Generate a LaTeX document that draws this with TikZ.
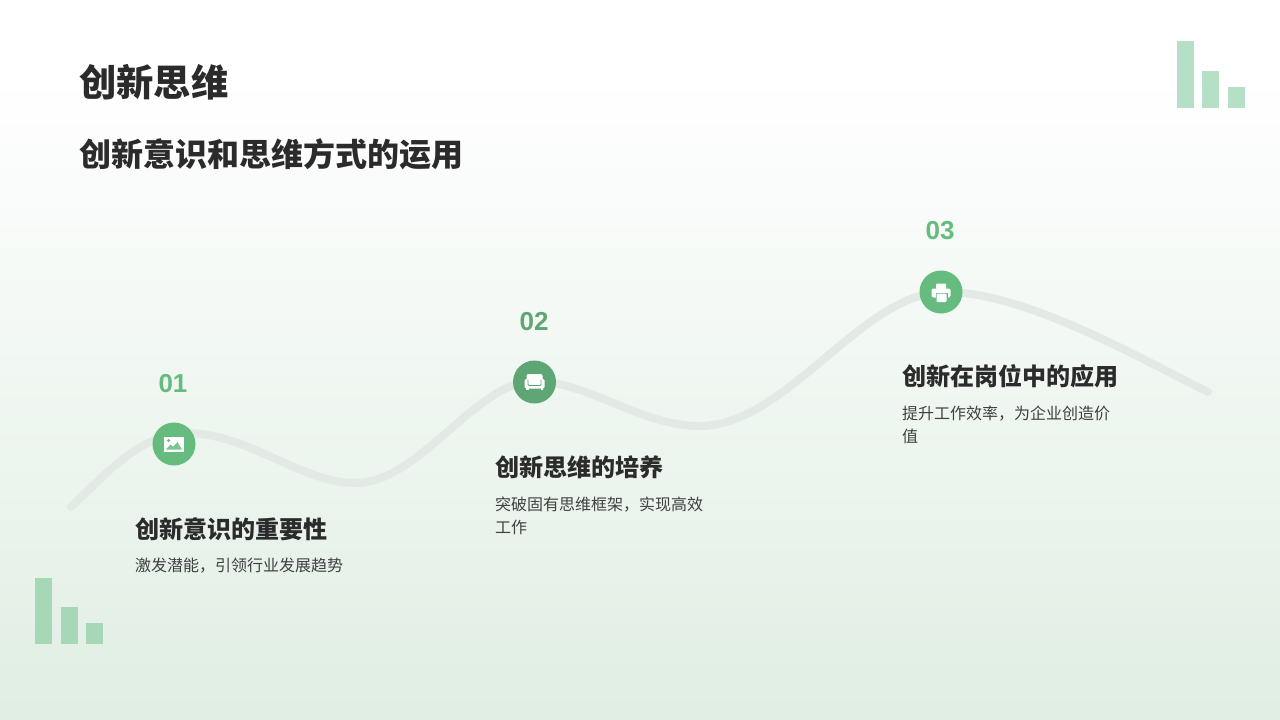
\documentclass[tikz,border=0pt]{standalone}
\usepackage{fontspec}
\setmainfont{Liberation Sans}
\newfontfamily\cjk{Noto Sans CJK SC}
\definecolor{bgbot}{HTML}{E0EEE3}
\definecolor{cgreen}{HTML}{66BB7F}
\definecolor{cdark}{HTML}{5FA675}
\definecolor{barT}{HTML}{B5E0C5}
\definecolor{barB}{HTML}{A6D8B7}
\definecolor{wave}{HTML}{E3EAE6}
\definecolor{ink}{HTML}{2B2B2B}
\definecolor{bodyink}{HTML}{404040}
\pgfdeclareverticalshading{bgsh}{100bp}{color(0bp)=(bgbot);color(25bp)=(bgbot);color(70bp)=(white);color(100bp)=(white)}
\tikzset{
  x=1pt,y=-1pt,
  txt/.style={inner sep=0pt,anchor=base west,text=ink},
  title/.style={txt,font=\cjk\fontsize{37.3}{44}\selectfont\bfseries},
  subtitle/.style={txt,font=\cjk\fontsize{32}{38}\selectfont\bfseries},
  heading/.style={txt,font=\cjk\fontsize{24.05}{29}\selectfont\bfseries},
  bodytxt/.style={txt,text=bodyink,font=\cjk\fontsize{16}{23}\selectfont,align=left},
  numlabel/.style={inner sep=0pt,anchor=center,font=\fontsize{26}{30}\selectfont\bfseries},
  dot/.style={circle,inner sep=0pt,minimum size=43pt},
  bar/.style={fill=#1,draw=none},
  iconw/.style={fill=white,draw=none}
}
\begin{document}
\begin{tikzpicture}
\useasboundingbox (0,0) rectangle (1280,720);
\shade[shading=bgsh] (0,0) rectangle (1280,720);
% bars
\fill[bar=barT] (1177,41) rectangle (1194,108);
\fill[bar=barT] (1202,71) rectangle (1219,108);
\fill[bar=barT] (1228,87) rectangle (1245,108);
\fill[bar=barB] (35,578) rectangle (52,644);
\fill[bar=barB] (61,607) rectangle (78,644);
\fill[bar=barB] (86,623) rectangle (103,644);
% wave
\draw[wave,line width=8pt,line cap=round]
  (71,507) .. controls (100,480) and (135,438) .. (180,433)
  .. controls (245,430) and (300,483) .. (355,483)
  .. controls (420,483) and (475,382) .. (534,381)
  .. controls (590,382) and (640,426) .. (700,426)
  .. controls (785,426) and (860,296) .. (941,292)
  .. controls (1020,290) and (1130,353) .. (1208,392);
% titles
\node[title] (t1) at (79,96) {创新思维};
\node[subtitle] (t2) at (79,166) {创新意识和思维方式的运用};
% step 1
\node[numlabel,text=cgreen] (n1) at (173,384) {01};
\node[dot,fill=cgreen] (c1) at (174,444) {};
\node[heading] (h1) at (135,538) {创新意识的重要性};
\node[bodytxt] (b1) at (135,571) {激发潜能，引领行业发展趋势};
% step 2
\node[numlabel,text=cdark] (n2) at (534,322) {02};
\node[dot,fill=cdark] (c2) at (534.5,382) {};
\node[heading] (h2) at (495,476) {创新思维的培养};
\node[bodytxt,anchor=north west] (b2) at (495,497) {突破固有思维框架，实现高效\\工作};
% step 3
\node[numlabel,text=cgreen] (n3) at (940,231) {03};
\node[dot,fill=cgreen] (c3) at (941,292) {};
\node[heading] (h3) at (902,385) {创新在岗位中的应用};
\node[bodytxt,anchor=north west] (b3) at (902,406) {提升工作效率，为企业创造价\\值};
% icon 1: picture
\begin{scope}[shift={(c1.center)}]
\fill[iconw] (-10,-7) rectangle (10,8);
\fill[cgreen] (-5.5,-3.5) circle (1.7);
\fill[cgreen!85] (-8,5.5) -- (-3.5,0.5) -- (-1,2.8) -- (3.5,-2) -- (8,5.5) -- cycle;
\end{scope}
% icon 2: sofa
\begin{scope}[shift={(c2.center)}]
\fill[iconw,rounded corners=2pt] (-8,-8) rectangle (8,0);
\fill[iconw,rounded corners=1.5pt] (-10,-3) rectangle (10,6.5);
\draw[cdark,line width=0.9pt,rounded corners=1pt] (-6.5,-2.5) -- (-6.5,3.5) -- (6.5,3.5) -- (6.5,-2.5);
\fill[iconw] (-8.5,6) rectangle (-6,8);
\fill[iconw] (6,6) rectangle (8.5,8);
\end{scope}
% icon 3: printer
\begin{scope}[shift={(c3.center)}]
\fill[iconw,rounded corners=1pt] (-5,-8.5) rectangle (5,-2.5);
\fill[iconw,rounded corners=2pt] (-9.5,-3.5) rectangle (9.5,5.5);
\fill[cgreen] (-5.5,0.5) rectangle (6.5,10.5);
\fill[iconw,rounded corners=0.8pt] (-4.5,1.5) rectangle (5.5,10);
\end{scope}
\end{tikzpicture}
\end{document}
